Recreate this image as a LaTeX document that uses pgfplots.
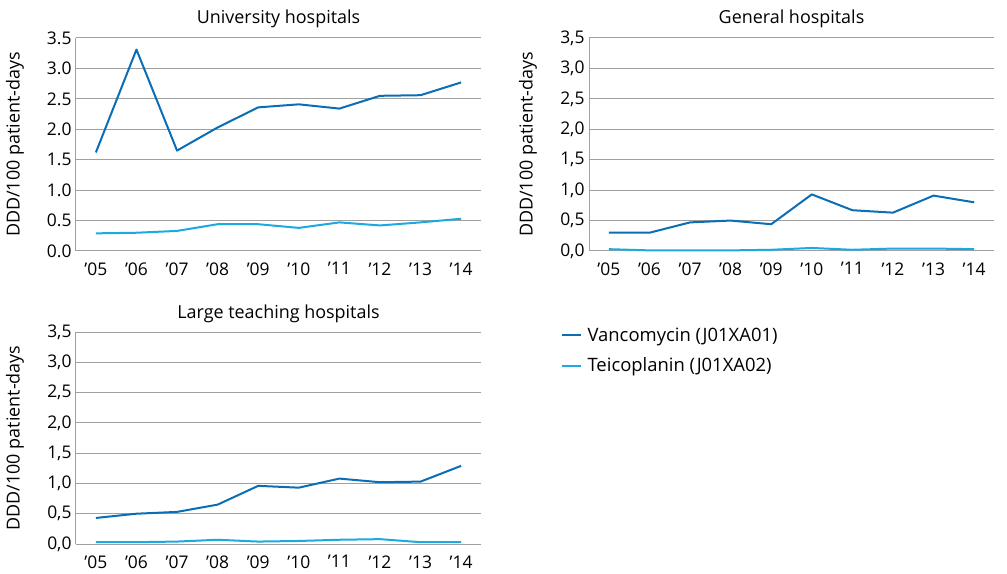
\documentclass[border=0pt]{standalone}
\usepackage{fontspec}
\setmainfont{Open Sans}
\usepackage{pgfplots}
\usepackage{pgfplotstable}
\pgfplotsset{compat=1.18}
\definecolor{vanco}{HTML}{0A6EB4}
\definecolor{teico}{HTML}{1AAAE1}
\definecolor{gridgray}{HTML}{A0A0A0}

\pgfplotstableread{
x vanco teico
0 1.62 0.29
1 3.31 0.30
2 1.65 0.33
3 2.03 0.44
4 2.36 0.44
5 2.41 0.38
6 2.34 0.47
7 2.55 0.42
8 2.56 0.47
9 2.77 0.53
}\univ
\pgfplotstableread{
x vanco teico
0 0.30 0.03
1 0.30 0.01
2 0.47 0.01
3 0.50 0.01
4 0.44 0.02
5 0.93 0.05
6 0.67 0.02
7 0.63 0.04
8 0.91 0.04
9 0.80 0.03
}\general
\pgfplotstableread{
x vanco teico
0 0.43 0.03
1 0.50 0.03
2 0.53 0.04
3 0.65 0.07
4 0.96 0.04
5 0.93 0.05
6 1.08 0.07
7 1.02 0.08
8 1.03 0.03
9 1.29 0.03
}\teaching

\pgfplotsset{
  panel/.style={
    scale only axis,
    width=405bp, height=213bp,
    xmin=-0.49, xmax=9.49,
    ymin=0, ymax=3.5,
    ytick={0,0.5,...,3.5},
    xtick={0,...,9},
    xticklabels={’05,’06,’07,’08,’09,’10,’11,’12,’13,’14},
    axis lines*=left,
    axis line style={draw=gridgray, line width=1bp, -},
    x axis line style={draw=none},
    major tick length=0pt,
    ymajorgrids,
    grid style={gridgray, line width=1bp},
    font=\fontsize{18}{21}\selectfont,
    ticklabel style={font=\fontsize{17.5}{20}\selectfont},
    title style={font=\fontsize{18.5}{21}\selectfont},
    /pgf/number format/assume math mode=true,
    /pgf/number format/fixed,
    /pgf/number format/fixed zerofill,
    /pgf/number format/precision=1,
    yticklabel style={xshift=-1bp},
    xticklabel style={yshift=-8bp},
    ylabel={DDD/100 patient-days},
    every axis y label/.style={at={(axis description cs:-0.151,0.5)}, anchor=center, rotate=90},
    every axis title/.style={at={(axis description cs:0.5,1)}, anchor=base, yshift=14bp},
    clip=false,
  },
  vline/.style={vanco, line width=2bp, line join=round},
  tline/.style={teico, line width=2bp, line join=round},
}

\begin{document}
\begin{tikzpicture}
\useasboundingbox (0,0) rectangle (1007bp,574bp);
\begin{axis}[panel, at={(76bp,323bp)}, anchor=south west,
  title={University hospitals},
  /pgf/number format/use period]
\addplot[vline] table[x=x,y=vanco] {\univ};
\addplot[tline] table[x=x,y=teico] {\univ};
\end{axis}
\begin{axis}[panel, at={(589bp,323bp)}, anchor=south west,
  title={General hospitals},
  /pgf/number format/use comma]
\addplot[vline] table[x=x,y=vanco] {\general};
\addplot[tline] table[x=x,y=teico] {\general};
\end{axis}
\begin{axis}[panel, at={(76bp,30bp)}, anchor=south west, height=212bp,
  title={Large teaching hospitals},
  /pgf/number format/use comma,
  legend style={at={(axis description cs:1.196,1.03)}, anchor=north west,
    draw=none, fill=none, font=\fontsize{18.5}{22}\selectfont,
    row sep=11bp, inner sep=0pt,
    /tikz/every odd column/.append style={column sep=4bp}},
  legend cell align=left,
  legend image code/.code={\draw[#1] (0bp,0bp) -- (19bp,0bp);}]
\addplot[vline] table[x=x,y=vanco] {\teaching};
\addlegendentry{Vancomycin (J01XA01)}
\addplot[tline] table[x=x,y=teico] {\teaching};
\addlegendentry{Teicoplanin (J01XA02)}
\end{axis}
\end{tikzpicture}
\end{document}
